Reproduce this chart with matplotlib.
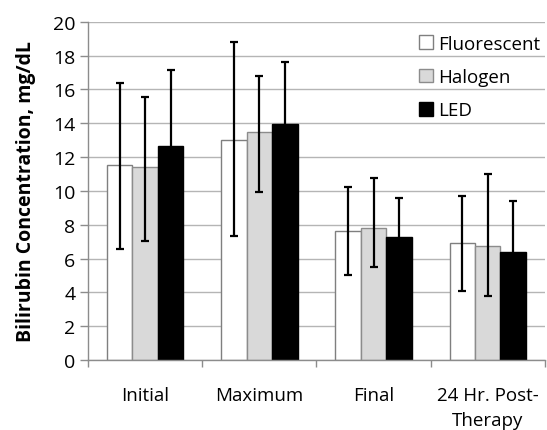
import matplotlib
matplotlib.use("Agg")
import matplotlib.pyplot as plt
import numpy as np
from matplotlib.patches import Patch

plt.rcParams['font.family'] = ['Open Sans', 'DejaVu Sans']

categories = ["Initial", "Maximum", "Final", "24 Hr. Post-\nTherapy"]
series = ["Fluorescent", "Halogen", "LED"]

fluorescent = [11.5, 13.0, 7.6, 6.9]
fluorescent_lo = [4.95, 5.65, 2.6, 2.8]
fluorescent_hi = [4.9, 5.8, 2.65, 2.8]

halogen = [11.4, 13.5, 7.8, 6.75]
halogen_lo = [4.35, 3.55, 2.3, 2.95]
halogen_hi = [4.15, 3.3, 2.95, 4.25]

led = [12.65, 13.95, 7.25, 6.4]
led_lo = [4.5, 3.65, 2.35, 3.0]
led_hi = [4.5, 3.65, 2.35, 3.0]

means = [fluorescent, halogen, led]
lows = [fluorescent_lo, halogen_lo, led_lo]
highs = [fluorescent_hi, halogen_hi, led_hi]
faces = ["white", "#d9d9d9", "black"]
edges = ["#7f7f7f", "#8c8c8c", "black"]

fig = plt.figure(figsize=(5.47, 4.31), dpi=100)
ax = fig.add_axes([0.161, 0.1624, 0.835, 0.785])

x = np.arange(len(categories))
w = 0.223
for i in range(3):
    pos = x + (i - 1) * w
    ax.bar(pos, means[i], width=w, color=faces[i], edgecolor=edges[i],
           linewidth=1.0, zorder=2)
    ax.errorbar(pos, means[i], yerr=[lows[i], highs[i]], fmt='none',
                ecolor='black', elinewidth=1.6, capsize=3.2,
                capthick=1.6, zorder=3)

ax.set_xlim(-0.5, len(categories) - 0.5)
ax.set_ylim(0, 20)
ax.set_yticks(np.arange(0, 21, 2))
ax.yaxis.grid(True, color='#b5b5b5', linewidth=1.0, zorder=0)
ax.set_axisbelow(True)

ax.set_xticks(x)
ax.set_xticklabels(categories, fontsize=13.5, linespacing=1.45)
ax.set_xticks(np.arange(-0.5, len(categories), 1.0), minor=True)
ax.tick_params(axis='x', which='major', length=0, pad=19)
ax.tick_params(axis='x', which='minor', length=5, color='#8c8c8c', width=1)
ax.tick_params(axis='y', length=6, color='#8c8c8c', width=1, pad=3,
               labelsize=14)

for s in ['top', 'right']:
    ax.spines[s].set_visible(False)
for s in ['left', 'bottom']:
    ax.spines[s].set_color('#8c8c8c')
    ax.spines[s].set_linewidth(1.0)

ax.set_ylabel("Bilirubin Concentration, mg/dL", fontsize=14,
              fontweight='bold', labelpad=12)

handles = [Patch(facecolor=faces[i], edgecolor=edges[i], label=series[i])
           for i in range(3)]
ax.legend(handles=handles, loc='upper right', bbox_to_anchor=(1.015, 0.995),
          frameon=False, fontsize=13.5, handlelength=0.75, handleheight=0.75,
          handletextpad=0.3, labelspacing=0.82, borderaxespad=0.2)

fig.savefig("out.png", dpi=100, facecolor='white')
